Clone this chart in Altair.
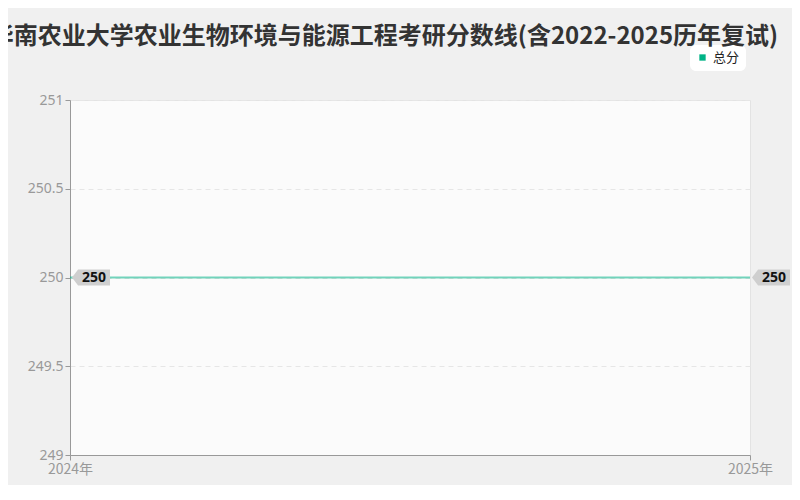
import altair as alt
import pandas as pd

years = [2024, 2025]
scores = [250, 250]
series = ["总分", "总分"]
title_text = "华南农业大学农业生物环境与能源工程考研分数线(含2022-2025历年复试)"

df = pd.DataFrame({"year": years, "score": scores, "series": series})
lab_df = pd.DataFrame({"year": years, "score": scores, "label": [str(s) for s in scores]})

FONT = "Noto Sans CJK SC"
AXFONT = "Noto Sans"

x = alt.X("year:Q", scale=alt.Scale(domain=[2024, 2025], nice=False, zero=False),
          axis=alt.Axis(values=[2024, 2025], labelExpr="datum.value + '年'", title=None,
                        grid=False, domainColor="#999999", tickColor="#999999",
                        labelColor="#999999", labelFontSize=14, labelFont=FONT,
                        labelFlush=False, tickSize=5, labelPadding=2))
y = alt.Y("score:Q", scale=alt.Scale(domain=[249, 251], nice=False, zero=False),
          axis=alt.Axis(values=[249, 249.5, 250, 250.5, 251], title=None, format="~g",
                        grid=True, gridDash=[5, 4], gridColor="#e6e6e6",
                        domainColor="#999999", tickColor="#999999",
                        labelColor="#999999", labelFontSize=14, labelFont=AXFONT,
                        tickSize=5, labelPadding=2))

line = alt.Chart(df).mark_line(strokeWidth=2.2, opacity=0.55).encode(
    x=x, y=y,
    color=alt.Color("series:N", scale=alt.Scale(range=["#00b386"]),
                    legend=alt.Legend(title=None, orient="none", legendX=620, legendY=-55,
                                      symbolType="square", symbolSize=40,
                                      symbolFillColor="#00b386", symbolStrokeColor="#00b386",
                                      symbolStrokeWidth=0,
                                      labelFont=FONT, labelFontSize=13, labelColor="#222222",
                                      fillColor="#ffffff", cornerRadius=6, padding=6,
                                      symbolOpacity=1))
)

tag_path = "M 0 0 L 0.32 -0.42 L 2 -0.42 L 2 0.42 L 0.32 0.42 Z"
tags = alt.Chart(lab_df).mark_point(shape=tag_path, size=1444, filled=True,
                                    color="#cfcfcf", opacity=1, xOffset=2).encode(
    x=alt.X("year:Q"), y=alt.Y("score:Q"))
texts = alt.Chart(lab_df).mark_text(font=AXFONT, fontSize=14, fontWeight="bold",
                                    color="#111111", dx=24, align="center", baseline="middle").encode(
    x=alt.X("year:Q"), y=alt.Y("score:Q"), text="label:N")

chart = alt.layer(line, tags, texts).properties(
    width=680, height=355,
    title=alt.TitleParams(title_text, font=FONT, fontSize=24, fontWeight="bold",
                          color="#333333", anchor="middle", frame="group", dx=-26, offset=-4),
    background="#f0f0f0",
    autosize=alt.AutoSizeParams(type="none"),
    padding={"left": 62, "top": 92, "right": 42, "bottom": 30},
).configure_view(fill="#fbfbfb", stroke="#e3e3e3")

chart.save("out.html", embed_options={"renderer": "svg", "actions": False})
